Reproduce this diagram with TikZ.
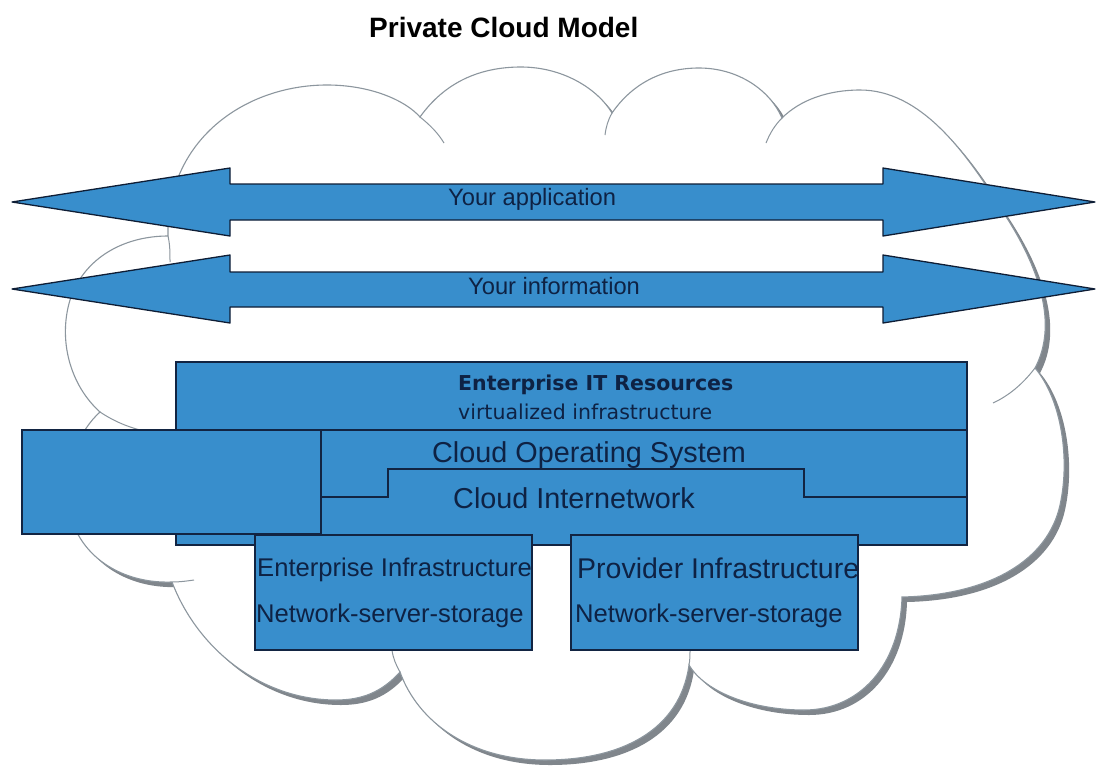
\documentclass[tikz,border=0pt]{standalone}
\usepackage{fontspec}
\setmainfont{Liberation Sans}
\newfontfamily\dejavu{DejaVu Sans}
\definecolor{boxblue}{RGB}{56,142,204}
\definecolor{navy}{RGB}{18,36,66}
\definecolor{txt}{RGB}{14,34,68}
\definecolor{cloudline}{RGB}{140,150,158}
\definecolor{shadowc}{RGB}{128,134,140}
\newcommand\myfs[1]{\fontsize{#1}{#1}\selectfont}
\tikzset{
  cloudpath/.style={insert path={
    (168,236) .. controls (166,140) and (245,85) .. (327,85)
    .. controls (370,85) and (405,100) .. (420,117)
    .. controls (445,82) and (480,67) .. (521,67)
    .. controls (562,67) and (597,88) .. (612,113)
    .. controls (632,84) and (662,68) .. (699,68)
    .. controls (738,68) and (770,90) .. (782,118)
    .. controls (800,100) and (828,90) .. (860,90)
    .. controls (920,90) and (965,150) .. (1003,212)
    .. controls (1040,268) and (1058,325) .. (1035,368)
    .. controls (1062,400) and (1070,460) .. (1060,505)
    .. controls (1048,560) and (990,595) .. (902,597)
    .. controls (900,665) and (860,710) .. (804,710)
    .. controls (752,710) and (705,692) .. (689,665)
    .. controls (680,730) and (622,760) .. (545,760)
    .. controls (470,760) and (418,722) .. (400,672)
    .. controls (382,692) and (362,700) .. (336,700)
    .. controls (262,700) and (198,650) .. (172,582)
    .. controls (118,584) and (72,552) .. (68,500)
    .. controls (66,462) and (80,430) .. (100,412)
    .. controls (70,385) and (58,340) .. (70,300)
    .. controls (84,257) and (125,236) .. (168,236) -- cycle}},
  cloudedge/.style={draw=cloudline, line width=1.1pt},
  inner/.style={draw=cloudline, line width=1pt},
  bluebox/.style={fill=boxblue, draw=navy, line width=1.4pt},
  bigarrow/.style={fill=boxblue, draw=navy!80!black, line width=1.3pt, line join=round},
  lbl/.style={anchor=base west, inner sep=0pt, text=txt},
}
\begin{document}
\begin{tikzpicture}[x=1pt,y=-1pt]
\useasboundingbox[fill=white] (0,0) rectangle (1097,769);

% title
\node[lbl, text=black, font=\myfs{28}\bfseries] (title) at (369,37) {Private Cloud Model};

% cloud with shadow
\fill[shadowc, shift={(5,5)}, cloudpath];
\path[fill=white, cloudedge, cloudpath];
\draw[inner] (420,117) .. controls (430,125) and (438,133) .. (444,143);
\draw[inner] (612,113) .. controls (608,120) and (606,127) .. (605,135);
\draw[inner] (782,118) .. controls (775,125) and (770,133) .. (766,143);
\draw[inner] (1035,368) .. controls (1022,385) and (1008,396) .. (993,403);
\draw[inner] (689,665) .. controls (690,660) and (690,655) .. (690,650);
\draw[inner] (400,672) .. controls (396,665) and (393,658) .. (392,650);
\draw[inner] (172,582) .. controls (180,582) and (187,581) .. (194,580);
\draw[inner] (100,412) .. controls (112,420) and (125,426) .. (140,430);
\draw[inner] (168,236) .. controls (170,245) and (170,252) .. (170,262);

% arrows
\draw[bigarrow] (12,202) -- (230,168) -- (230,184) -- (883,184) -- (883,168) -- (1095,202)
  -- (883,236) -- (883,220) -- (230,220) -- (230,236) -- cycle;
\draw[bigarrow] (12,289) -- (230,255) -- (230,272) -- (883,272) -- (883,255) -- (1095,289)
  -- (883,323) -- (883,307) -- (230,307) -- (230,323) -- cycle;
\node[lbl, font=\myfs{23.7}] (app) at (448,205) {Your application};
\node[lbl, font=\myfs{23.7}] (info) at (468,294) {Your information};

% enterprise IT resources block
\coordinate (itnw) at (176,362);
\coordinate (itse) at (967,545);
\draw[bluebox] (itnw) rectangle (itse);
\coordinate (divl) at (176,430);
\coordinate (divr) at (967,430);
\draw[navy, line width=1.4pt] (divl) -- (divr);
\coordinate (s0) at (321,497);
\coordinate (s1) at (388,497);
\coordinate (s2) at (388,469);
\coordinate (s3) at (804,469);
\coordinate (s4) at (804,497);
\coordinate (s5) at (967,497);
\draw[navy, line width=1.4pt] (s0) -- (s1) -- (s2) -- (s3) -- (s4) -- (s5);

% left box
\coordinate (lbnw) at (22,430);
\coordinate (lbse) at (321,534);
\draw[bluebox] (lbnw) rectangle (lbse);

% lower boxes
\coordinate (einw) at (255,535);
\coordinate (eise) at (532,650);
\draw[bluebox] (einw) rectangle (eise);
\coordinate (pinw) at (571,535);
\coordinate (pise) at (858,650);
\draw[bluebox] (pinw) rectangle (pise);

% texts
\node[lbl, font=\dejavu\myfs{20.5}\bfseries] (itres) at (458,390) {Enterprise IT Resources};
\node[lbl, font=\dejavu\myfs{20.5}] (virt) at (458,419) {virtualized infrastructure};
\node[lbl, font=\myfs{28.8}] (cos) at (432,462) {Cloud Operating System};
\node[lbl, font=\myfs{28.8}] (cin) at (453,508) {Cloud Internetwork};
\node[lbl, font=\myfs{25.6}] (eit) at (257,576) {Enterprise Infrastructure};
\node[lbl, font=\myfs{25.6}] (ens) at (256,622) {Network-server-storage};
\node[lbl, font=\myfs{28.5}] (pit) at (577,578) {Provider Infrastructure};
\node[lbl, font=\myfs{25.6}] (pns) at (575,622) {Network-server-storage};
\end{tikzpicture}
\end{document}
